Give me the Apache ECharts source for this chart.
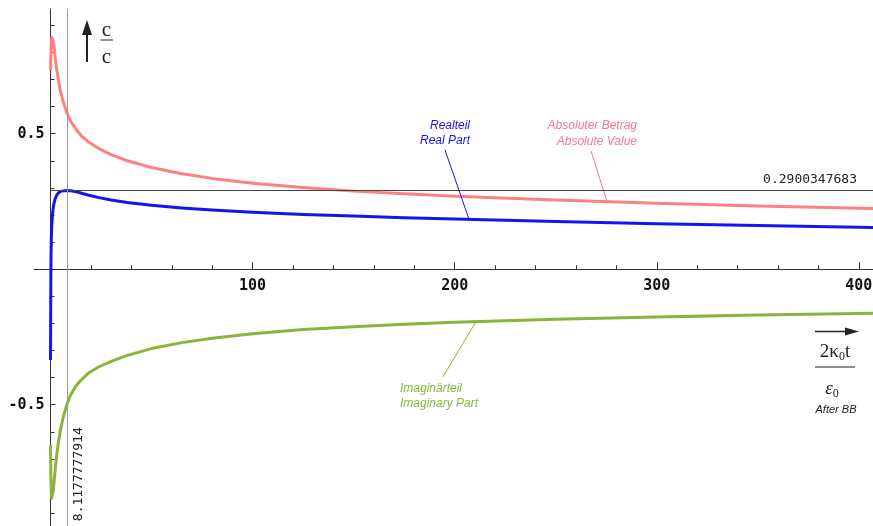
<!DOCTYPE html>
<html>
<head>
<meta charset="utf-8">
<title>c/c over 2κ0t/ε0</title>
<script src="https://cdn.jsdelivr.net/npm/echarts@6.0.0/dist/echarts.min.js"></script>
<style>
  html, body { margin: 0; padding: 0; background: #ffffff; }
  #chart { width: 873px; height: 526px; }
</style>
</head>
<body>
<div id="chart"></div>
<script>
// Time after BB, in units of 2κ0t/ε0
const t = [0, 0.05, 0.1, 0.15, 0.2, 0.3, 0.4, 0.55, 0.7, 0.9, 1.1, 1.35, 1.6, 2.2, 3, 4, 5, 6.5, 8.1, 10, 12.5, 15, 19, 24, 30, 38,
           50, 65, 80, 100, 125, 150, 175, 200, 250, 300, 350, 407];

// Real part (Realteil)
const realPart = [-0.335, -0.25, -0.15, -0.07, 0.0, 0.065, 0.11, 0.145, 0.17, 0.192, 0.21, 0.226, 0.238, 0.257, 0.272, 0.282, 0.287, 0.289, 0.290, 0.289, 0.286, 0.281, 0.273, 0.264, 0.255, 0.246,
                  0.236, 0.226, 0.218, 0.210, 0.202, 0.196, 0.190, 0.185, 0.176, 0.168, 0.161, 0.154];

// Imaginary part (Imaginärteil)
const imagPart = [-0.65, -0.68, -0.71, -0.74, -0.765, -0.80, -0.825, -0.845, -0.852, -0.85, -0.84, -0.82, -0.80, -0.75, -0.69, -0.635, -0.59, -0.54, -0.50, -0.463, -0.432, -0.41, -0.382, -0.36, -0.34, -0.318,
                  -0.293, -0.271, -0.255, -0.238, -0.223, -0.212, -0.203, -0.196, -0.185, -0.176, -0.169, -0.163];

// Absolute value (Absoluter Betrag)
const absValue = [0.735, 0.75, 0.765, 0.775, 0.79, 0.81, 0.83, 0.845, 0.855, 0.855, 0.85, 0.84, 0.83, 0.79, 0.74, 0.694, 0.655, 0.612, 0.578, 0.546, 0.517, 0.494, 0.468, 0.445, 0.423, 0.400,
                  0.375, 0.352, 0.335, 0.317, 0.301, 0.288, 0.278, 0.269, 0.255, 0.243, 0.233, 0.224];

// Maximum of the real part
const peakT = 8.1177777914;
const peakRe = 0.2900347683;

// Axis ticks
const xTickValues = [0, 100, 200, 300, 400];
const yTickValues = [-1, -0.5, 0, 0.5];
const yLabelValues = [-0.5, 0.5];

// Leader lines for the curve captions: [start, end] in data coordinates
const realLeader = [[195.2, 0.44], [207, 0.186]];
const absLeader = [[267.5, 0.436], [275.4, 0.249]];
const imagLeader = [[194.2, -0.397], [210.5, -0.194]];

const X_MIN = -8.165, X_MAX = 407, Y_MIN = -1, Y_MAX = 0.96;

const COL_ABS = '#FF8080';
const COL_RE = '#1414F0';
const COL_IM = '#8CB43A';
const COL_ABS_TEXT = '#F27893';
const AXIS_COL = '#333333';

const pairs = arr => t.map((x, i) => [x, arr[i]]);

const W = 873, H = 526;
const GRID_TOP = 9, GRID_BOTTOM = -14.2;
const gridHeight = H - GRID_TOP - GRID_BOTTOM;
// lift the horizontal axis from the bottom edge of the grid up to y = 0
const xAxisOffset = -(0 - Y_MIN) / (Y_MAX - Y_MIN) * gridHeight;

const chart = echarts.init(document.getElementById('chart'), null, { renderer: 'canvas' });

const gridBox = { top: GRID_TOP, bottom: GRID_BOTTOM, right: 0, containLabel: false, outerBoundsMode: 'none' };

const leader = (pts, color) => [
  { coord: pts[0], lineStyle: { color: color, width: 1, type: 'solid' }, label: { show: false } },
  { coord: pts[1] }
];

const option = {
  animation: false,
  backgroundColor: '#ffffff',
  grid: [
    Object.assign({ left: 34 }, gridBox),
    Object.assign({ left: 50.5 }, gridBox)
  ],
  xAxis: [
    {
      gridIndex: 0, type: 'value', min: X_MIN, max: X_MAX, position: 'bottom', offset: xAxisOffset,
      axisLine: { onZero: false, lineStyle: { color: AXIS_COL, width: 1 } },
      axisTick: { show: false }, axisLabel: { show: false }, splitLine: { show: false }
    },
    {
      gridIndex: 1, type: 'value', min: 0, max: X_MAX, interval: 100, position: 'bottom', offset: xAxisOffset,
      axisLine: { show: true, onZero: false, lineStyle: { color: AXIS_COL, width: 1 } },
      axisTick: { show: true, inside: true, length: 7, customValues: xTickValues, lineStyle: { color: AXIS_COL } },
      minorTick: { show: true, splitNumber: 5, length: 4, lineStyle: { color: AXIS_COL } },
      axisLabel: {
        margin: 9, color: '#111', fontFamily: 'DejaVu Sans Mono', fontWeight: 'bold', fontSize: 15,
        formatter: v => (v > 0 && v % 100 === 0) ? String(v) : ''
      },
      splitLine: { show: false }
    }
  ],
  yAxis: [
    {
      gridIndex: 0, type: 'value', min: Y_MIN, max: Y_MAX,
      axisLine: { show: false }, axisTick: { show: false }, axisLabel: { show: false }, splitLine: { show: false }
    },
    {
      gridIndex: 1, type: 'value', min: Y_MIN, max: Y_MAX, interval: 0.5, position: 'left',
      axisLine: { show: true, onZero: false, lineStyle: { color: AXIS_COL, width: 1 } },
      axisTick: { show: true, inside: true, length: 5, customValues: yTickValues, lineStyle: { color: AXIS_COL } },
      minorTick: { show: true, splitNumber: 5, length: 4, lineStyle: { color: AXIS_COL } },
      axisLabel: {
        margin: 6, color: '#111', fontFamily: 'DejaVu Sans Mono', fontWeight: 'bold', fontSize: 15,
        formatter: v => yLabelValues.some(y => Math.abs(y - v) < 1e-9) ? v.toFixed(1) : ''
      },
      splitLine: { show: false }
    }
  ],
  series: [
    {
      name: 'Absolute Value', type: 'line', xAxisIndex: 1, yAxisIndex: 1,
      data: pairs(absValue), showSymbol: false, smooth: false,
      lineStyle: { color: COL_ABS, width: 3, join: 'round' }, z: 3,
      markLine: {
        silent: true, symbol: 'none', animation: false,
        data: [leader(absLeader, COL_ABS_TEXT)]
      }
    },
    {
      name: 'Real Part', type: 'line', xAxisIndex: 1, yAxisIndex: 1,
      data: pairs(realPart), showSymbol: false, smooth: false,
      lineStyle: { color: COL_RE, width: 3, join: 'round' }, z: 4,
      markLine: {
        silent: true, symbol: 'none', animation: false,
        data: [
          {
            yAxis: peakRe,
            lineStyle: { color: '#444444', width: 1, type: 'solid' },
            label: {
              show: true, position: 'insideEndTop', distance: [16, 4],
              formatter: String(peakRe), color: '#222', fontFamily: 'DejaVu Sans Mono', fontSize: 13
            }
          },
          {
            xAxis: peakT,
            lineStyle: { color: '#9a9a9a', width: 1, type: 'solid' },
            label: {
              show: true, position: 'insideStartBottom', distance: [19, 5],
              formatter: String(peakT), color: '#222', fontFamily: 'DejaVu Sans Mono', fontSize: 13
            }
          },
          leader(realLeader, COL_RE)
        ]
      }
    },
    {
      name: 'Imaginary Part', type: 'line', xAxisIndex: 1, yAxisIndex: 1,
      data: pairs(imagPart), showSymbol: false, smooth: false,
      lineStyle: { color: COL_IM, width: 3, join: 'round' }, z: 3,
      markLine: {
        silent: true, symbol: 'none', animation: false,
        data: [leader(imagLeader, COL_IM)]
      }
    }
  ],
  graphic: [
    // vertical axis caption: arrow and c over c
    { type: 'line', shape: { x1: 87, y1: 62, x2: 87, y2: 32 }, style: { stroke: '#222', lineWidth: 2 } },
    { type: 'polygon', shape: { points: [[82, 35], [92, 35], [87, 20]] }, style: { fill: '#222' } },
    { type: 'text', style: { text: 'c', x: 106.5, y: 30, align: 'center', verticalAlign: 'middle', fontFamily: 'Liberation Serif', fontSize: 21, fill: '#222' } },
    { type: 'line', shape: { x1: 100.5, y1: 40, x2: 113, y2: 40 }, style: { stroke: '#222', lineWidth: 1 } },
    { type: 'text', style: { text: 'c', x: 106.5, y: 57, align: 'center', verticalAlign: 'middle', fontFamily: 'Liberation Serif', fontSize: 21, fill: '#222' } },

    // horizontal axis caption: arrow and 2κ0t / ε0
    { type: 'line', shape: { x1: 815, y1: 331.5, x2: 848, y2: 331.5 }, style: { stroke: '#222', lineWidth: 1.5 } },
    { type: 'polygon', shape: { points: [[845, 327.5], [845, 335.5], [859, 331.5]] }, style: { fill: '#222' } },
    {
      type: 'text',
      style: {
        text: '{n|2κ}{s|0}{n|t}', x: 835, y: 352, align: 'center', verticalAlign: 'middle', fill: '#222',
        rich: {
          n: { fontFamily: 'Liberation Serif', fontSize: 19, lineHeight: 22, fill: '#222' },
          s: { fontFamily: 'Liberation Serif', fontSize: 12, lineHeight: 12, verticalAlign: 'bottom', fill: '#222' }
        }
      }
    },
    { type: 'line', shape: { x1: 815, y1: 367, x2: 855, y2: 367 }, style: { stroke: '#222', lineWidth: 1 } },
    {
      type: 'text',
      style: {
        text: '{e|ε}{s|0}', x: 832, y: 389, align: 'center', verticalAlign: 'middle', fill: '#222',
        rich: {
          e: { fontFamily: 'Liberation Serif', fontStyle: 'italic', fontSize: 19, lineHeight: 22, fill: '#222' },
          s: { fontFamily: 'Liberation Serif', fontSize: 12, lineHeight: 12, verticalAlign: 'bottom', fill: '#222' }
        }
      }
    },
    { type: 'text', style: { text: 'After BB', x: 836, y: 409.5, align: 'center', verticalAlign: 'middle', fontFamily: 'Liberation Sans', fontStyle: 'italic', fontSize: 11, fill: '#222' } },

    // curve captions
    { type: 'text', style: { text: 'Realteil\nReal Part', x: 470, y: 133, align: 'right', verticalAlign: 'middle', lineHeight: 15.5, fontFamily: 'Liberation Sans', fontStyle: 'italic', fontSize: 12, fill: COL_RE } },
    { type: 'text', style: { text: 'Absoluter Betrag\nAbsolute Value', x: 637, y: 133.5, align: 'right', verticalAlign: 'middle', lineHeight: 15.5, fontFamily: 'Liberation Sans', fontStyle: 'italic', fontSize: 12, fill: COL_ABS_TEXT } },
    { type: 'text', style: { text: 'Imaginärteil\nImaginary Part', x: 400, y: 396.5, align: 'left', verticalAlign: 'middle', lineHeight: 15, fontFamily: 'Liberation Sans', fontStyle: 'italic', fontSize: 12, fill: COL_IM } }
  ]
};

chart.setOption(option);
</script>
</body>
</html>
